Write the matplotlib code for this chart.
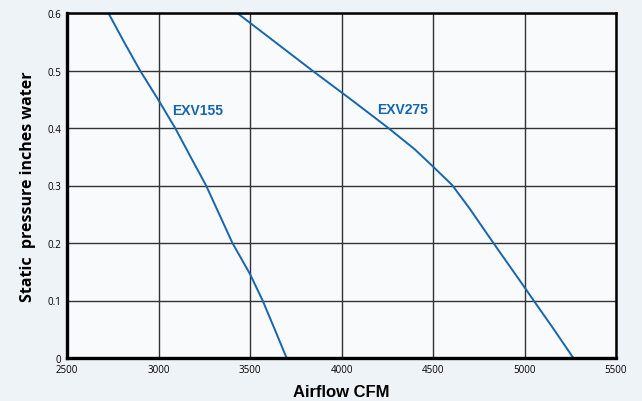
import numpy as np
import matplotlib
matplotlib.use("Agg")
import matplotlib.pyplot as plt

# fan curves (airflow CFM, static pressure in. water)
exv155_cfm = [2726, 2811, 2899, 2997, 3091, 3175, 3260, 3332, 3404, 3500, 3569, 3635, 3700]
exv155_sp = [0.60, 0.55, 0.50, 0.45, 0.40, 0.35, 0.30, 0.25, 0.20, 0.146, 0.10, 0.05, 0.0]

exv275_cfm = [3430, 3840, 4050, 4256, 4400, 4500, 4604, 4700, 4830, 5000, 5050, 5160, 5267]
exv275_sp = [0.60, 0.50, 0.45, 0.40, 0.363, 0.333, 0.301, 0.26, 0.20, 0.123, 0.10, 0.05, 0.0]

labels = ["EXV155", "EXV275"]
label_pos = [(3074, 0.431), (4194, 0.433)]

x_ticks = [2500, 3000, 3500, 4000, 4500, 5000, 5500]
y_ticks = [0, 0.1, 0.2, 0.3, 0.4, 0.5, 0.6]

blue = "#1565b0"

fig = plt.figure(figsize=(6.42, 4.02), dpi=100)
fig.patch.set_facecolor("#eef3f7")
ax = fig.add_axes([67 / 642, 1 - 359 / 402, 549 / 642, 345 / 402])
ax.set_facecolor("#f8fafc")

ax.plot(exv155_cfm, exv155_sp, color=blue, lw=1.4)
ax.plot(exv275_cfm, exv275_sp, color=blue, lw=1.4)

for txt, (x, y) in zip(labels, label_pos):
    ax.text(x, y, txt, color=blue, fontsize=10, fontweight="bold",
            family="Liberation Sans", va="center", ha="left")

ax.set_xlim(2500, 5500)
ax.set_ylim(0, 0.6)
ax.set_xticks(x_ticks)
ax.set_yticks(y_ticks)
ax.set_xticklabels([str(t) for t in x_ticks])
ax.set_yticklabels(["0", "0.1", "0.2", "0.3", "0.4", "0.5", "0.6"])
ax.tick_params(length=0, labelsize=7, pad=4)
for lab in ax.get_xticklabels() + ax.get_yticklabels():
    lab.set_family("Open Sans")
ax.grid(True, color="#333333", lw=1.0)
ax.set_axisbelow(True)

for side in ["left", "bottom"]:
    ax.spines[side].set_linewidth(2.4)
for side in ["top", "right"]:
    ax.spines[side].set_linewidth(1.8)
for sp in ax.spines.values():
    sp.set_color("black")

ax.set_xlabel("Airflow CFM", fontsize=12, fontweight="bold",
              family="Liberation Sans", labelpad=7)
ax.set_ylabel("Static  pressure inches water", fontsize=11.5, fontweight="bold",
              family="Open Sans", labelpad=8)

fig.savefig("out.png", dpi=100, facecolor=fig.get_facecolor())
